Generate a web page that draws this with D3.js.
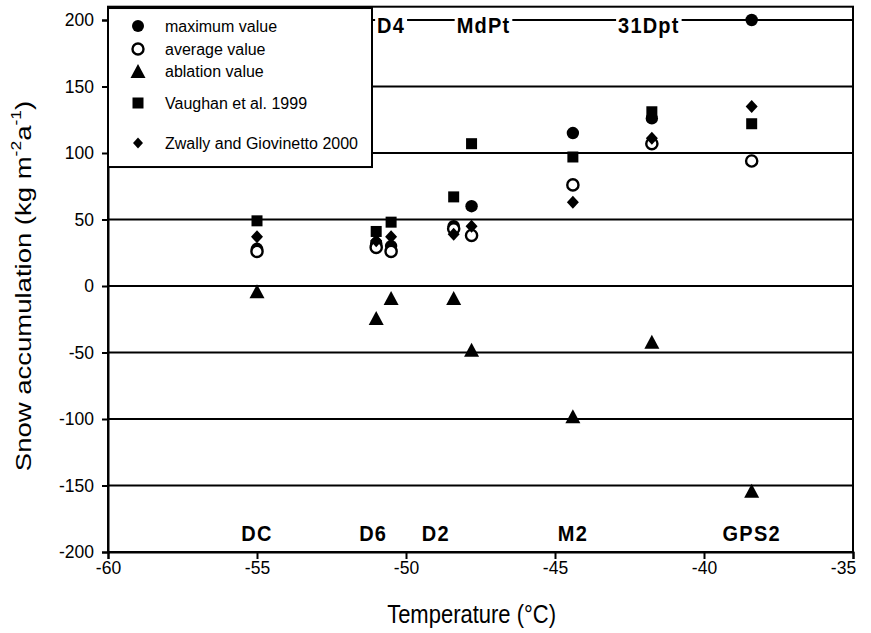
<!DOCTYPE html>
<html>
<head>
<meta charset="utf-8">
<script src="https://cdn.jsdelivr.net/npm/d3@7"></script>
<style>
  body { margin: 0; background: #fff; }
  text { font-family: "Liberation Sans", Arial, sans-serif; fill: #000; }
</style>
</head>
<body>
<div id="box-div"></div>
<script>
// site temperatures (°C) and snow accumulation values (kg m-2 a-1)
const temps = [-55, -51, -50.5, -48.4, -47.8, -44.4, -41.75, -38.4]
const maxVal = [28, 32, 30, 45, 60, 115, 126, 200]
const avgVal = [26, 29, 26, 43, 38, 76, 107, 94]
const ablVal = [-4, -24, -9, -9, -48, -98, -42, -154]
const vaughan = [49, 41, 48, 67, 107, 97, 131, 122]
const zwally = [37, 34, 37, 39, 45, 63, 111, 135]

// station names written in the plot
const siteNames = ['DC', 'D6', 'D2', 'M2', 'GPS2', 'D4', 'MdPt', '31Dpt']
const siteX = [-55, -51.1, -49, -44.4, -38.4, -50.5, -47.4, -41.85]
const siteY = [-186, -186, -186, -186, -186, 196, 196, 196]

const xTicks = [-60, -55, -50, -45, -40, -35]
const yTicks = [-200, -150, -100, -50, 0, 50, 100, 150, 200]

const legendNames = ['maximum value', 'average value', 'ablation value',
  'Vaughan et al. 1999', 'Zwally and Giovinetto 2000']

const dms = {
  width: 871,
  height: 633,
  margin: { top: 20, right: 18, bottom: 81, left: 108 }
}
dms.contentWidth = dms.width - dms.margin.left - dms.margin.right
dms.contentHeight = dms.height - dms.margin.top - dms.margin.bottom

const box = d3.select('#box-div').append('svg')
  .attr('width', dms.width)
  .attr('height', dms.height)
  .style('background', '#fff')

const content = box.append('g')
  .attr('transform', `translate(${dms.margin.left},${dms.margin.top})`)

const xScale = d3.scaleLinear()
  .domain([-60, -35])
  .range([0, dms.contentWidth])

const yScale = d3.scaleLinear()
  .domain([-200, 200])
  .range([dms.contentHeight, 0])

// gridlines
content.append('g')
  .selectAll('line')
  .data(yTicks.filter(d => d > -200))
  .join('line')
  .attr('x1', 0)
  .attr('x2', dms.contentWidth)
  .attr('y1', yScale)
  .attr('y2', yScale)
  .attr('stroke', '#000')
  .attr('stroke-width', 2)

// plot frame (top sits a bit above 200)
content.append('rect')
  .attr('x', 0)
  .attr('y', yScale(210))
  .attr('width', dms.contentWidth)
  .attr('height', yScale(-200) - yScale(210))
  .attr('fill', 'none')
  .attr('stroke', '#000')
  .attr('stroke-width', 2)

const plain = d => String(d)
const yAxis = content.append('g')
  .call(d3.axisLeft(yScale).tickValues(yTicks).tickFormat(plain).tickSize(6).tickPadding(8))
const xAxis = content.append('g')
  .attr('transform', `translate(0,${dms.contentHeight})`)
  .call(d3.axisBottom(xScale).tickValues(xTicks).tickFormat(plain).tickSize(7).tickPadding(3))

for (const ax of [yAxis, xAxis]) {
  ax.select('.domain').attr('stroke', '#000').attr('stroke-width', 2)
  ax.selectAll('.tick line').attr('stroke', '#000').attr('stroke-width', 2)
  ax.selectAll('.tick text')
    .style('font-family', '"Liberation Sans", Arial, sans-serif')
    .style('font-size', '17.5px')
    .attr('fill', '#000')
}
xAxis.selectAll('.tick text').filter(d => d === -35).attr('dx', -10)

// markers
const triPath = 'M0,-7L7.5,7L-7.5,7Z'
const diaPath = 'M0,-6.5L6,0L0,6.5L-6,0Z'
const marks = content.append('g')
const pts = (vals) => temps.map((t, i) => ({ t, v: vals[i] }))

marks.append('g').selectAll('circle')
  .data(pts(maxVal))
  .join('circle')
  .attr('cx', d => xScale(d.t))
  .attr('cy', d => yScale(d.v))
  .attr('r', 6.2)
  .attr('fill', '#000')

marks.append('g').selectAll('circle')
  .data(pts(avgVal))
  .join('circle')
  .attr('cx', d => xScale(d.t))
  .attr('cy', d => yScale(d.v))
  .attr('r', 5.6)
  .attr('fill', '#fff')
  .attr('stroke', '#000')
  .attr('stroke-width', 2.4)

marks.append('g').selectAll('path')
  .data(pts(ablVal))
  .join('path')
  .attr('d', triPath)
  .attr('transform', d => `translate(${xScale(d.t)},${yScale(d.v)})`)
  .attr('fill', '#000')

marks.append('g').selectAll('rect')
  .data(pts(vaughan))
  .join('rect')
  .attr('x', d => xScale(d.t) - 5.5)
  .attr('y', d => yScale(d.v) - 5.5)
  .attr('width', 11)
  .attr('height', 11)
  .attr('fill', '#000')

marks.append('g').selectAll('path')
  .data(pts(zwally))
  .join('path')
  .attr('d', diaPath)
  .attr('transform', d => `translate(${xScale(d.t)},${yScale(d.v)})`)
  .attr('fill', '#000')

// site names on white boxes
const siteG = content.append('g')
siteNames.forEach((name, i) => {
  const g = siteG.append('g')
    .attr('transform', `translate(${xScale(siteX[i])},${yScale(siteY[i])}) scale(1,1.12)`)
  const t = g.append('text')
    .attr('text-anchor', 'middle')
    .attr('dominant-baseline', 'central')
    .style('font-size', '20px')
    .style('font-weight', 'bold')
    .style('letter-spacing', '1.2px')
    .text(name)
  const bb = t.node().getBBox()
  g.insert('rect', 'text')
    .attr('x', bb.x - 2)
    .attr('y', bb.y + 3)
    .attr('width', bb.width + 4)
    .attr('height', bb.height - 6)
    .attr('fill', '#fff')
})

// legend
const legend = content.append('g')
legend.append('rect')
  .attr('x', 0)
  .attr('y', yScale(209))
  .attr('width', 264)
  .attr('height', 159)
  .attr('fill', '#fff')
  .attr('stroke', '#000')
  .attr('stroke-width', 2)

const legRows = [6, 29, 51, 83, 123]
const legItems = legend.selectAll('g.item')
  .data(legendNames)
  .join('g')
  .attr('class', 'item')
  .attr('transform', (d, i) => `translate(30,${legRows[i]})`)

legItems.each(function (d, i) {
  const g = d3.select(this)
  if (i === 0) g.append('circle').attr('r', 6).attr('fill', '#000')
  if (i === 1) g.append('circle').attr('r', 5.5).attr('fill', '#fff').attr('stroke', '#000').attr('stroke-width', 2.4)
  if (i === 2) g.append('path').attr('d', triPath).attr('fill', '#000')
  if (i === 3) g.append('rect').attr('x', -5.5).attr('y', -5.5).attr('width', 11).attr('height', 11).attr('fill', '#000')
  if (i === 4) g.append('path').attr('d', 'M0,-5.5L5,0L0,5.5L-5,0Z').attr('fill', '#000')
  g.append('text')
    .attr('x', 27)
    .attr('dominant-baseline', 'central')
    .style('font-size', '16px')
    .text(d)
})

// axis titles
box.append('text')
  .attr('transform', `translate(${dms.margin.left + xScale(-47.8)},614) scale(1,1.15)`)
  .attr('text-anchor', 'middle')
  .attr('dominant-baseline', 'central')
  .style('font-size', '22px')
  .text('Temperature (°C)')

const yTitle = box.append('text')
  .attr('transform', `translate(23,${dms.margin.top + yScale(0)}) scale(1,1.25) rotate(-90)`)
  .attr('text-anchor', 'middle')
  .attr('dominant-baseline', 'central')
  .style('font-size', '22px')
yTitle.append('tspan').text('Snow accumulation (kg m')
yTitle.append('tspan').attr('dy', -7).style('font-size', '14px').text('-2')
yTitle.append('tspan').attr('dy', 7).text('a')
yTitle.append('tspan').attr('dy', -7).style('font-size', '14px').text('-1')
yTitle.append('tspan').attr('dy', 7).text(')')
</script>
</body>
</html>
